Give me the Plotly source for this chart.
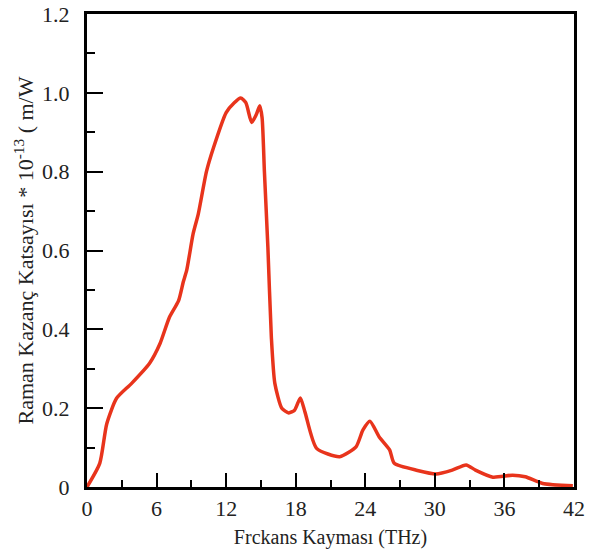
import plotly.graph_objects as go

# Raman gain curve
freq = [0, 1.1, 1.7, 2.55, 3.85, 5.4, 6.3, 7.1, 7.9, 8.3, 8.6, 9.15, 9.6, 10.3,
        10.9, 12.0, 12.7, 13.25, 13.7, 14.2, 14.6, 14.9, 15.1, 15.3, 15.6, 15.9,
        16.2, 16.8, 17.4, 17.9, 18.4, 18.8, 19.8, 21.8, 23.2, 23.8, 24.4, 25.2,
        26.1, 26.5, 28.5, 30.1, 31.5, 32.7, 33.5, 35.0, 36.7, 37.8, 39.3, 41.9]
gain = [0.0, 0.06, 0.16, 0.225, 0.263, 0.314, 0.364, 0.43, 0.473, 0.52, 0.55,
        0.642, 0.693, 0.80, 0.86, 0.95, 0.975, 0.987, 0.975, 0.925, 0.945, 0.967,
        0.937, 0.80, 0.608, 0.38, 0.263, 0.20, 0.188, 0.195, 0.226, 0.19, 0.098,
        0.077, 0.102, 0.145, 0.167, 0.127, 0.094, 0.06, 0.042, 0.033, 0.043,
        0.056, 0.043, 0.025, 0.03, 0.026, 0.009, 0.003]

x_ticks = [0, 6, 12, 18, 24, 30, 36, 42]
y_ticks = [0, 0.2, 0.4, 0.6, 0.8, 1.0, 1.2]
y_labels = ["0", "0.2", "0.4", "0.6", "0.8", "1.0", "1.2"]

fig = go.Figure(go.Scatter(x=freq, y=gain, mode="lines",
                           line=dict(color="#e8341c", width=3.5, shape="spline", smoothing=0.6)))

axis_font = dict(family="Liberation Serif", size=22, color="#222")
fig.update_layout(
    width=599, height=554,
    margin=dict(l=87, r=25, t=14, b=67),
    plot_bgcolor="white", paper_bgcolor="white",
    showlegend=False,
    font=dict(family="Liberation Serif", color="#222"),
)
fig.update_xaxes(
    range=[0, 42], tickvals=x_ticks, tickfont=axis_font, automargin=False,
    showline=True, linecolor="black", linewidth=3, mirror=True,
    ticks="inside", ticklen=14, tickwidth=2, tickcolor="black",
    minor=dict(ticks="inside", ticklen=7, tickwidth=2, tickcolor="black", dtick=3, showgrid=False),
    showgrid=False, zeroline=False,
    title=dict(text="Frckans Kayması (THz)", font=dict(family="Liberation Serif", size=20), standoff=10),
)
fig.update_yaxes(
    range=[0, 1.2], tickvals=y_ticks, ticktext=y_labels, tickfont=axis_font, automargin=False,
    ticklabelstandoff=10,
    showline=True, linecolor="black", linewidth=3, mirror=True,
    ticks="inside", ticklen=16, tickwidth=2, tickcolor="black",
    minor=dict(ticks="inside", ticklen=8, tickwidth=2, tickcolor="black", dtick=0.1, showgrid=False),
    showgrid=False, zeroline=False,
    title=dict(text="Raman Kazanç Katsayısı * 10<sup>-13</sup> ( m/W",
               font=dict(family="Liberation Serif", size=22), standoff=3),
)

# drop the default 8px body margin so the figure fills the window
fig.write_html("out.html", config={"displayModeBar": False},
               post_script="document.body.style.margin='0';")
